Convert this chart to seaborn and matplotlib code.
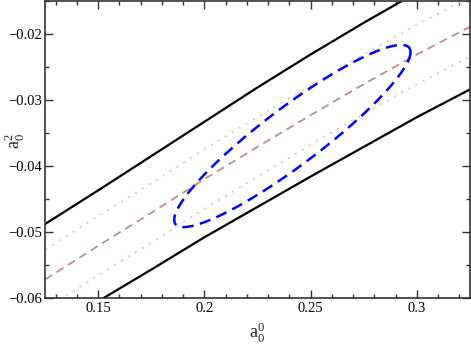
import numpy as np
import pandas as pd
import matplotlib
matplotlib.use("Agg")
import matplotlib.pyplot as plt
import seaborn as sns
from matplotlib.ticker import MultipleLocator, FuncFormatter

# ---- data ----
x_grid = [0.125, 0.15, 0.175, 0.2, 0.225, 0.25, 0.275, 0.3, 0.325]
central = [-0.0572, -0.0521, -0.0471, -0.0420, -0.0371, -0.0323, -0.0276, -0.0231, -0.0189]
dotted_upper = [-0.0527, -0.0476, -0.0426, -0.0375, -0.0326, -0.0278, -0.0231, -0.0186, -0.0144]
dotted_lower = [-0.0617, -0.0566, -0.0516, -0.0465, -0.0416, -0.0368, -0.0321, -0.0276, -0.0234]
band_upper = [-0.0488, -0.0437, -0.0385, -0.0333, -0.0281, -0.0231, -0.0183, -0.0137, -0.0094]
band_lower = [-0.0656, -0.0605, -0.0557, -0.0508, -0.0462, -0.0416, -0.0371, -0.0326, -0.0284]

# error ellipse: centre, widths and correlation
ell_center = (0.2414, -0.03545)
ell_sigma = (0.0556, 0.0138)
ell_rho = 0.92

x_ticks = [0.15, 0.2, 0.25, 0.3]
y_ticks = [-0.06, -0.05, -0.04, -0.03, -0.02]

t = np.linspace(0, 2 * np.pi, 300)
ell_x = ell_center[0] + ell_sigma[0] * np.cos(t)
ell_y = ell_center[1] + ell_sigma[1] * (ell_rho * np.cos(t) + np.sqrt(1 - ell_rho**2) * np.sin(t))

sns.set_theme(style="ticks")
plt.rcParams['font.family'] = ['Liberation Serif', 'DejaVu Serif']
plt.rcParams['mathtext.fontset'] = 'custom'
plt.rcParams['mathtext.rm'] = 'Liberation Serif'
plt.rcParams['mathtext.it'] = 'Liberation Serif:italic'

fig, ax = plt.subplots(figsize=(4.71, 3.44), dpi=100)
fig.subplots_adjust(left=45/471, right=470/471, top=1-1/344, bottom=1-298/344)

sns.lineplot(x=x_grid, y=dotted_upper, ax=ax, color='#ddd2d2', lw=1.4, estimator=None)
ax.lines[-1].set_dashes([1.2, 3.0])
sns.lineplot(x=x_grid, y=dotted_lower, ax=ax, color='#ddd2d2', lw=1.4, estimator=None)
ax.lines[-1].set_dashes([1.2, 3.0])
sns.lineplot(x=x_grid, y=central, ax=ax, color='#bc8f8f', lw=1.3, estimator=None)
ax.lines[-1].set_dashes([4.5, 3.0])
sns.lineplot(x=x_grid, y=band_upper, ax=ax, color='black', lw=1.6, estimator=None)
sns.lineplot(x=x_grid, y=band_lower, ax=ax, color='black', lw=1.6, estimator=None)
sns.lineplot(x=ell_x, y=ell_y, ax=ax, color='#0000ff', lw=1.8, sort=False, estimator=None)
ax.lines[-1].set_dashes([4.5, 2.6])

def fmt(v, pos):
    s = '%g' % v
    return s.replace('-', '\u2212')

ax.set_xlim(0.125, 0.325)
ax.set_ylim(-0.06, -0.015)
ax.set_xticks(x_ticks)
ax.set_yticks(y_ticks)
ax.xaxis.set_minor_locator(MultipleLocator(0.01))
ax.yaxis.set_minor_locator(MultipleLocator(0.005))
ax.xaxis.set_major_formatter(FuncFormatter(fmt))
ax.yaxis.set_major_formatter(FuncFormatter(fmt))
ax.tick_params(which='both', direction='in', top=True, right=True, colors='#333333',
               labelcolor='black', labelsize=10.5)
ax.tick_params(which='major', length=6, width=1, pad=3)
ax.tick_params(which='minor', length=3, width=1)
ax.tick_params(axis='y', which='major', pad=2)
for s in ax.spines.values():
    s.set_color('#333333')
    s.set_linewidth(1.2)

ax.set_xlabel(r'$\mathrm{a}_0^0$', fontsize=13)
ax.set_ylabel(r'$\mathrm{a}_0^2$', fontsize=13)
ax.xaxis.set_label_coords(0.5, -0.075)
ax.yaxis.set_label_coords(-0.043, 0.53)

fig.savefig('out.png', dpi=100)
